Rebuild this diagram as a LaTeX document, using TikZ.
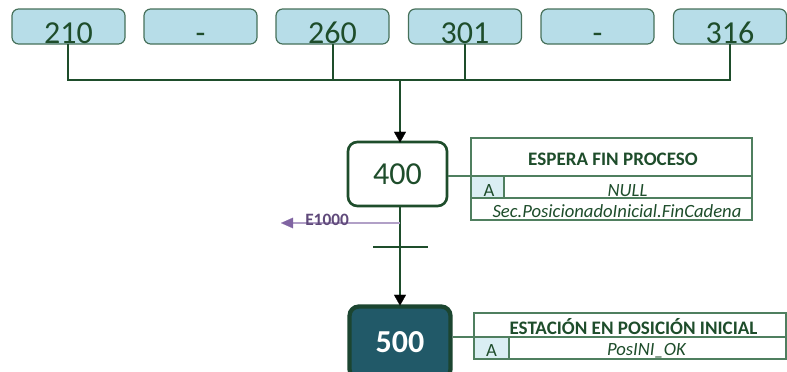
\documentclass[tikz,border=0pt]{standalone}
\usepackage{fontspec}
\setmainfont{Carlito}
\usetikzlibrary{arrows.meta}
\definecolor{stepfill}{HTML}{B7DDE8}
\definecolor{stepedge}{HTML}{46705A}
\definecolor{grafgreen}{HTML}{1E4D2B}
\definecolor{tabline}{HTML}{4F7F5F}
\definecolor{cellfill}{HTML}{DAEEF3}
\definecolor{finfill}{HTML}{215968}
\definecolor{finedge}{HTML}{1B4530}
\definecolor{alarmline}{HTML}{B1A0C7}
\definecolor{alarmtip}{HTML}{8064A2}
\definecolor{alarmtext}{HTML}{5F497A}
\tikzset{
  prevbox/.style={draw=stepedge, line width=0.9pt, fill=stepfill, rounded corners=5pt,
    minimum width=113*0.75pt, minimum height=35*0.75pt, inner sep=0pt},
  prevtext/.style={anchor=base, text=grafgreen, font=\fontsize{24}{24}\selectfont, inner sep=0pt},
  stepbox/.style={draw=grafgreen, line width=2pt, fill=white, rounded corners=7pt,
    minimum width=99*0.75pt, minimum height=64*0.75pt, inner sep=0pt,
    text=grafgreen, font=\fontsize{24}{24}\selectfont},
  activebox/.style={draw=finedge, line width=3.2pt, fill=finfill, rounded corners=7pt,
    minimum width=101*0.75pt, minimum height=72*0.75pt, inner sep=0pt,
    text=white, font=\fontsize{24}{24}\selectfont\bfseries},
  flow/.style={draw=grafgreen, line width=1.6pt},
  tip/.style={-{Triangle[length=8pt,width=9pt]}},
  tab/.style={draw=tabline, line width=0.8pt},
  tabtext/.style={anchor=base, inner sep=0pt, text=grafgreen, font=\fontsize{14}{14}\selectfont},
  tabitalic/.style={tabtext, font=\fontsize{14}{14}\selectfont\itshape},
  tabtitle/.style={tabtext, font=\fontsize{14.3}{14.3}\selectfont\bfseries},
}
\begin{document}
\begin{tikzpicture}[x=0.75pt, y=-0.75pt]
\clip (0,0) rectangle (787,371);
\useasboundingbox (0,0) rectangle (787,371);

% preceding steps
\node[prevbox] (p1) at (68.5,26.5) {};
\node[prevbox] (p2) at (200.5,26.5) {};
\node[prevbox] (p3) at (332.5,26.5) {};
\node[prevbox] (p4) at (465,26.5) {};
\node[prevbox] (p5) at (597.5,26.5) {};
\node[prevbox] (p6) at (730,26.5) {};
\node[prevtext] (t1) at (68.5,43.5) {210};
\node[prevtext] (t2) at (200.5,43.5) {-};
\node[prevtext] (t3) at (332.5,43.5) {260};
\node[prevtext] (t4) at (465,43.5) {301};
\node[prevtext] (t5) at (597.5,43.5) {-};
\node[prevtext] (t6) at (730,43.5) {316};

% convergence
\coordinate (j1) at (68,80);
\coordinate (j3) at (333,80);
\coordinate (j4) at (465,80);
\coordinate (j6) at (730,80);
\coordinate (jm) at (400,80);
\draw[flow] (68,44) -- (j1) -- (j6) -- (730,44);
\draw[flow] (333,44) -- (j3);
\draw[flow] (465,44) -- (j4);

% step 400
\node[stepbox] (s400) at (397.5,174) {400};
\draw[flow] (jm) -- (400,132);
\draw[tip, black, line width=0.1pt, fill=black] (400,131) -- (400,142.5);

% step 400 action table
\coordinate (a1) at (471,176);
\draw[tab] (s400.east |- a1) -- (a1);
\fill[cellfill] (471,176) rectangle (504,198);
\draw[tab] (471,138) rectangle (752,220);
\draw[tab] (471,176) -- (752,176);
\draw[tab] (471,198) -- (752,198);
\draw[tab] (504,176) -- (504,198);
\node[tabtitle] (h1) at (613,165) {ESPERA FIN PROCESO};
\node[tabtext] (a1l) at (489,196.5) {A};
\node[tabitalic] (a1t) at (627.5,196.5) {NULL};
\node[tabitalic] (c1) at (617,217) {Sec.PosicionadoInicial.FinCadena};

% transition to 500
\coordinate (e1) at (400,223);
\coordinate (e2) at (281,223);
\coordinate (tr) at (400,247);
\node[activebox] (s500) at (400,342.5) {500};
\draw[flow] (400,206) -- (400,296);
\draw[tip, black, line width=0.1pt, fill=black] (400,295) -- (400,305.5);
\draw[grafgreen, line width=1.8pt] ([xshift=-27*0.75pt]tr) -- ([xshift=28*0.75pt]tr);

% alarm branch
\draw[alarmline, line width=1.2pt] (e1) -- (292,223);
\draw[-{Triangle[length=9pt,width=8pt]}, alarmtip, line width=0.1pt] (291,223) -- (e2);
\node[anchor=base west, inner sep=0pt, text=alarmtext, font=\fontsize{13}{13}\selectfont\bfseries] (al) at (305,225.5) {E1000};

% step 500 action table
\coordinate (a2) at (474,337);
\draw[tab] (s500.east |- a2) -- (a2);
\fill[cellfill] (474,337) rectangle (509,359);
\draw[tab] (474,313) rectangle (786,359);
\draw[tab] (474,337) -- (786,337);
\draw[tab] (509,337) -- (509,359);
\node[tabtitle] (h2) at (633.5,334) {ESTACIÓN EN POSICIÓN INICIAL};
\node[tabtext] (a2l) at (491.5,356) {A};
\node[tabitalic] (a2t) at (646.5,355.5) {PosINI\_OK};
\end{tikzpicture}
\end{document}
